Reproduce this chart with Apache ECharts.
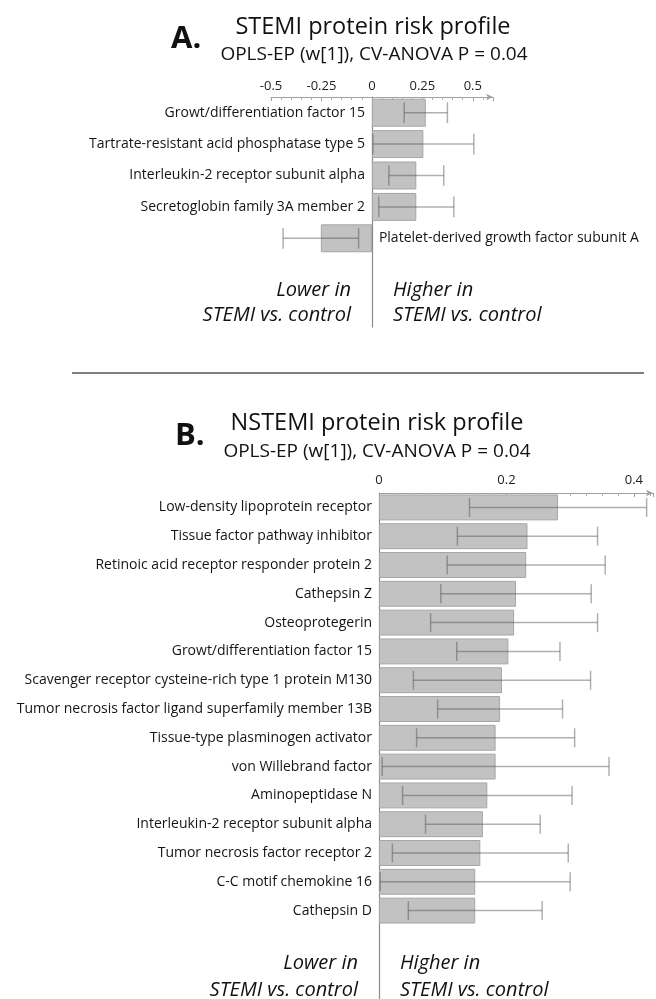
<!DOCTYPE html>
<html>
<head>
<meta charset="utf-8">
<script src="https://cdn.jsdelivr.net/npm/echarts@6/dist/echarts.min.js"></script>
<style>
html, body { margin: 0; padding: 0; background: #fff; }
#chart { width: 656px; height: 999px; }
</style>
</head>
<body>
<div id="chart"></div>
<script>
// A. STEMI panel
const stemiNames = [
  'Growt/differentiation factor 15',
  'Tartrate-resistant acid phosphatase type 5',
  'Interleukin-2 receptor subunit alpha',
  'Secretoglobin family 3A member 2',
  'Platelet-derived growth factor subunit A'
];
const stemiValues = [0.267, 0.255, 0.22, 0.22, -0.253];
const stemiErrors = [0.107, 0.25, 0.136, 0.186, 0.187];
const stemiTicks = [-0.5, -0.25, 0, 0.25, 0.5];

// B. NSTEMI panel
const nstemiNames = [
  'Low-density lipoprotein receptor',
  'Tissue factor pathway inhibitor',
  'Retinoic acid receptor responder protein 2',
  'Cathepsin Z',
  'Osteoprotegerin',
  'Growt/differentiation factor 15',
  'Scavenger receptor cysteine-rich type 1 protein M130',
  'Tumor necrosis factor ligand superfamily member 13B',
  'Tissue-type plasminogen activator',
  'von Willebrand factor',
  'Aminopeptidase N',
  'Interleukin-2 receptor subunit alpha',
  'Tumor necrosis factor receptor 2',
  'C-C motif chemokine 16',
  'Cathepsin D'
];
const nstemiValues = [0.281, 0.233, 0.231, 0.215, 0.212, 0.203, 0.193, 0.190, 0.183, 0.183, 0.170, 0.163, 0.159, 0.151, 0.151];
const nstemiErrors = [0.139, 0.110, 0.124, 0.118, 0.131, 0.081, 0.139, 0.098, 0.124, 0.178, 0.133, 0.090, 0.138, 0.149, 0.105];
const nstemiTicks = [0, 0.2, 0.4];

const FONT = '"Open Sans", sans-serif';
const chart = echarts.init(document.getElementById('chart'));

// x axis on top with small inward ticks and an arrow
const valueAxis = (gridIndex, min, max, interval, minorSplit, ticks, margin) => ({
  type: 'value',
  gridIndex: gridIndex,
  position: 'top',
  min: min,
  max: max,
  interval: interval,
  axisLine: { show: true, lineStyle: { color: '#a0a0a0', width: 1 }, symbol: ['none', 'arrow'], symbolSize: [5, 7] },
  axisTick: { show: true, inside: true, length: 4, lineStyle: { color: '#a0a0a0' } },
  minorTick: { show: true, splitNumber: minorSplit, length: 3, lineStyle: { color: '#b0b0b0' } },
  splitLine: { show: false },
  axisLabel: {
    color: '#222', fontFamily: FONT, fontSize: 13, margin: margin,
    formatter: (v) => ticks.some(t => Math.abs(t - v) < 1e-9) ? String(v) : ''
  }
});

// hidden x axis, only used to place the zero line
const zeroAxisX = (gridIndex, min, max) => ({
  type: 'value', gridIndex: gridIndex, min: min, max: max,
  axisLine: { show: false }, axisTick: { show: false }, axisLabel: { show: false }, splitLine: { show: false }
});

const catAxis = (gridIndex, names) => ({
  type: 'category', gridIndex: gridIndex, data: names, inverse: true,
  axisLine: { show: false }, axisTick: { show: false }, axisLabel: { show: false }
});

const zeroAxisY = (gridIndex) => ({
  type: 'category', gridIndex: gridIndex, data: [''],
  axisLine: { show: true, onZero: true, lineStyle: { color: '#8a8a8a', width: 1.2 } },
  axisTick: { show: false }, axisLabel: { show: false }
});

const barSeries = (axisIndex, values, gap) => ({
  type: 'bar',
  xAxisIndex: axisIndex,
  yAxisIndex: axisIndex,
  barCategoryGap: gap,
  data: values.map(v => ({ value: v, label: { position: v < 0 ? 'right' : 'left' } })),
  itemStyle: { color: '#c2c2c2', borderColor: '#a6a6a6', borderWidth: 1 },
  label: { show: true, formatter: '{b}', distance: 7, color: '#151515', fontFamily: FONT, fontSize: 14 },
  silent: true,
  z: 2
});

const errorSeries = (axisIndex, values, errors, capFrac) => ({
  type: 'custom',
  xAxisIndex: axisIndex,
  yAxisIndex: axisIndex,
  data: values.map((v, i) => [i, v - errors[i], v + errors[i]]),
  encode: { x: [1, 2], y: 0 },
  renderItem: (params, api) => {
    const i = api.value(0);
    const a = api.coord([api.value(1), i]);
    const b = api.coord([api.value(2), i]);
    const h = api.size([0, 1])[1] * capFrac / 2;
    const style = { stroke: 'rgba(80,80,80,0.45)', lineWidth: 1.5 };
    return {
      type: 'group',
      children: [
        { type: 'line', shape: { x1: a[0], y1: a[1], x2: b[0], y2: b[1] }, style: style },
        { type: 'line', shape: { x1: a[0], y1: a[1] - h, x2: a[0], y2: a[1] + h }, style: style },
        { type: 'line', shape: { x1: b[0], y1: b[1] - h, x2: b[0], y2: b[1] + h }, style: style }
      ]
    };
  },
  silent: true,
  z: 3
});

const txt = (x, y, text, font, align) => ({
  type: 'text', x: x, y: y, silent: true,
  style: { text: text, fill: '#111', font: font, align: align, verticalAlign: 'middle' }
});

const titleFont = '23.5px ' + FONT;
const subFont = '19px ' + FONT;
const letterFont = 'bold 31px ' + FONT;
const noteFont = 'italic 20px ' + FONT;

chart.setOption({
  animation: false,
  backgroundColor: '#fff',
  grid: [
    { left: 271, width: 222, top: 97, height: 157 },
    { left: 271, width: 222, top: 97, height: 230 },
    { left: 379, width: 274, top: 493, height: 432 },
    { left: 379, width: 274, top: 493, height: 506 }
  ],
  xAxis: [
    valueAxis(0, -0.5, 0.6, 0.25, 5, stemiTicks, 4),
    zeroAxisX(1, -0.5, 0.6),
    valueAxis(2, 0, 0.43, 0.2, 8, nstemiTicks, 6),
    zeroAxisX(3, 0, 0.43)
  ],
  yAxis: [
    catAxis(0, stemiNames),
    zeroAxisY(1),
    catAxis(2, nstemiNames),
    zeroAxisY(3)
  ],
  series: [
    barSeries(0, stemiValues, '11%'),
    errorSeries(0, stemiValues, stemiErrors, 0.66),
    barSeries(2, nstemiValues, '10%'),
    errorSeries(2, nstemiValues, nstemiErrors, 0.66)
  ],
  graphic: [
    txt(171, 39, 'A.', letterFont, 'left'),
    txt(373, 27, 'STEMI protein risk profile', titleFont, 'center'),
    txt(374, 55, 'OPLS-EP (w[1]), CV-ANOVA P = 0.04', subFont, 'center'),
    txt(351, 290, 'Lower in', noteFont, 'right'),
    txt(351, 315, 'STEMI vs. control', noteFont, 'right'),
    txt(393, 290, 'Higher in', noteFont, 'left'),
    txt(393, 315, 'STEMI vs. control', noteFont, 'left'),
    { type: 'line', silent: true, shape: { x1: 72, y1: 373, x2: 644, y2: 373 }, style: { stroke: '#555', lineWidth: 1.5 } },
    txt(175, 436, 'B.', letterFont, 'left'),
    txt(377, 423, 'NSTEMI protein risk profile', titleFont, 'center'),
    txt(377, 452, 'OPLS-EP (w[1]), CV-ANOVA P = 0.04', subFont, 'center'),
    txt(358, 963, 'Lower in', noteFont, 'right'),
    txt(358, 990, 'STEMI vs. control', noteFont, 'right'),
    txt(400, 963, 'Higher in', noteFont, 'left'),
    txt(400, 990, 'STEMI vs. control', noteFont, 'left')
  ]
});
</script>
</body>
</html>
